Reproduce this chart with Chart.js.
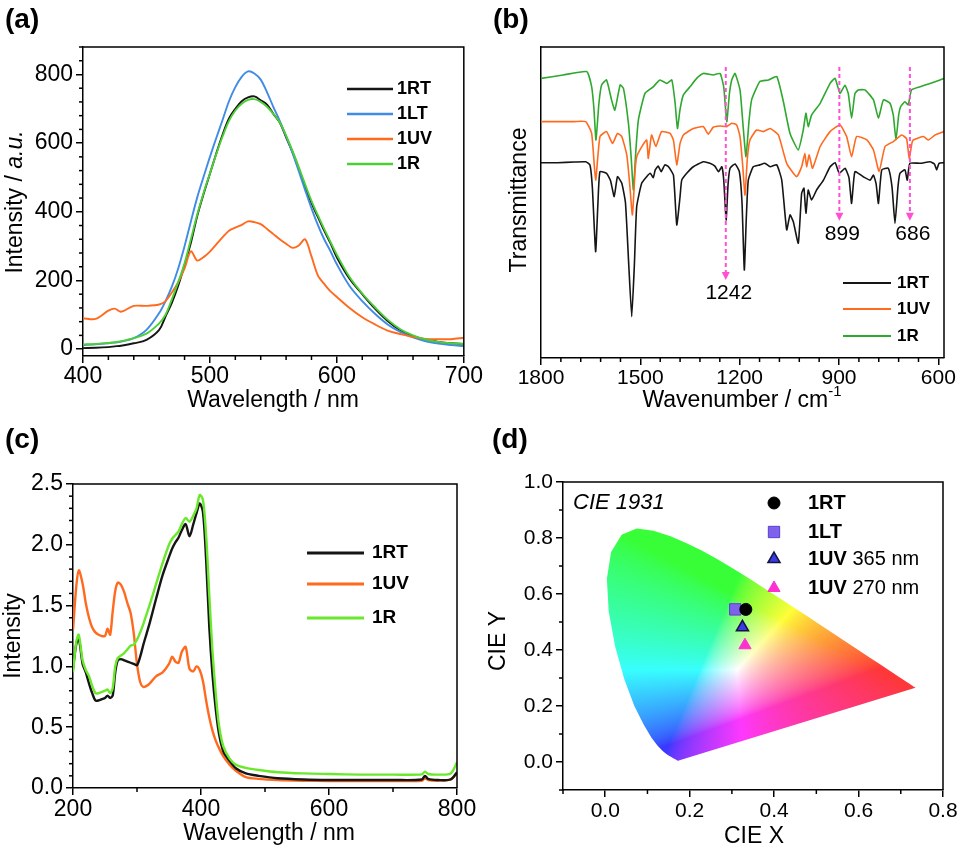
<!DOCTYPE html>
<html>
<head>
<meta charset="utf-8">
<script src="https://cdn.jsdelivr.net/npm/chart.js@4.4.0/dist/chart.umd.min.js"></script>
<style>
  html, body { margin: 0; padding: 0; background: #fff; }
  #wrap { position: relative; width: 966px; height: 856px; overflow: hidden; }
  canvas { position: absolute; }
</style>
</head>
<body>
<div id="wrap">
  <canvas id="ca" width="483" height="420" style="left:0;top:0"></canvas>
  <canvas id="cb" width="483" height="420" style="left:483px;top:0"></canvas>
  <canvas id="cc" width="483" height="436" style="left:0;top:420px"></canvas>
  <canvas id="cd" width="483" height="436" style="left:483px;top:420px"></canvas>
</div>
<script>
// ---- (a) photoluminescence ----
const aWl = [400,410,420,425,430,440,450,460,465,470,475,480,485,490,495,500,505,510,515,520,525,530,535,540,545,550,555,560,565,570,575,580,585,590,595,600,610,620,630,640,650,660,670,680,690,700];
const a1RT = [3,4,6,8,10,17,27,56,95,135,185,245,310,388,452,511,570,625,672,700,722,733,736,725,712,685,660,617,574,525,473,425,385,345,308,267,205,160,118,82,55,38,28,21,17,15];
const a1LT = [12,14,17,19,22,32,56,105,140,182,235,300,372,442,502,560,615,668,722,763,793,809,803,785,748,705,665,620,572,518,463,410,362,320,285,247,184,140,103,72,50,34,23,16,12,9];
const a1UV = [90,88,112,118,109,126,126,130,140,165,195,235,285,258,268,284,305,326,345,354,362,372,370,364,350,335,320,307,295,302,320,270,215,190,168,152,120,93,72,54,44,35,30,29,29,33];
const a1R  = [14,15,18,20,23,32,45,75,100,145,195,250,320,392,455,512,568,620,665,695,715,726,728,720,706,685,660,622,578,530,480,432,390,350,312,275,210,162,122,86,58,40,28,21,17,15];
const aXTicks = [400, 500, 600, 700];
const aYTicks = [0, 200, 400, 600, 800];

// ---- (b) IR spectra (arbitrary transmittance units) ----
const bRtWn = [1800,1750,1700,1665,1652,1645,1635,1628,1622,1602,1590,1579,1569,1556,1545,1535,1526,1518,1511,1496,1481,1470,1461,1455,1446,1437,1426,1415,1400,1390,1380,1375,1360,1340,1310,1290,1275,1264,1254,1248,1241,1235,1229,1214,1201,1193,1186,1180,1174,1159,1139,1124,1108,1088,1073,1058,1048,1038,1023,1013,1006,1000,993,983,968,947,927,912,899,882,870,862,852,827,806,796,788,781,771,751,740,731,722,716,701,694,686,655,625,612,605,598,583];
const bRtT = [62.8,62.8,63.0,63.1,62,55,34.2,50,59.9,59.4,57,51.9,58.3,56.2,50,30,13.3,30,48.7,56.2,58.3,59.4,58,60.5,61.7,59.9,62.1,61.5,58.8,42.8,52,57.2,59.4,61.5,63.1,62.6,61.7,59.9,61.5,57,44.4,56,61,62.4,59.9,50,28.3,45,57.2,61.5,62.1,62.6,61.5,62.1,57.2,41.2,46,43.8,36.9,52.9,54.6,46.5,54,50.8,54,57.2,61.5,62.8,59.4,61,58,49.7,59.9,58.3,57.2,58.8,56,49.7,60.5,61,55,43.3,55,59.4,60.5,57.2,62.6,62.6,63.1,62.4,60.5,62.6,62.8];
const bUvWn = [1800,1700,1665,1647,1635,1622,1602,1584,1569,1556,1541,1533,1524,1516,1511,1496,1481,1476,1466,1453,1436,1410,1400,1390,1380,1370,1340,1310,1295,1280,1259,1239,1224,1209,1199,1191,1184,1177,1169,1149,1129,1108,1083,1058,1028,1013,1003,998,990,980,957,927,897,877,862,847,816,796,779,761,736,711,696,688,680,676,645,630,610,583];
const bUvT = [76.0,76.0,76.0,72.2,57.2,71.2,72.8,69,72.2,71.2,65.3,57,46,60,64.7,67.9,70.1,64.2,71.7,68,72.8,72.2,70,62.1,69,71.7,73.8,74.4,72,74.2,74.6,74.4,75.5,74.9,71.2,62,52.4,64,70.1,73.3,72.8,73.8,71.7,62.6,58.3,61.5,65.8,61.5,65.3,61,68,72.8,74.9,71.2,64.7,71.2,70.1,66.9,60,68,69.6,71.7,70.5,64.2,69,70.1,71.2,70.1,71.7,72.8];
const bRWn = [1800,1733,1662,1647,1640,1634,1625,1617,1602,1587,1577,1561,1551,1536,1528,1521,1514,1506,1486,1461,1441,1420,1405,1395,1388,1380,1370,1350,1330,1310,1280,1259,1248,1239,1231,1224,1214,1199,1190,1181,1172,1164,1139,1113,1088,1068,1048,1023,1008,1000,993,983,957,927,912,897,882,872,862,852,842,822,796,781,766,746,736,728,720,714,701,691,681,655,625,595,583];
const bRT = [89.9,91.0,92.1,87.2,80,70.1,82,87.8,89.4,83,79.7,87.8,86.7,75.5,65,54,66,76.5,85.1,87.2,89.4,88.3,89.4,82,73.8,80,84.6,87.2,89.9,91.5,91.0,91.5,87,76.0,85,89.4,91.5,86.2,75,64.7,76,83,88.9,89.4,90.5,82.4,72.2,66.9,73.3,78.7,74.4,78.1,81.9,88.3,89.9,85.1,87.7,85,77.1,85,86.2,86.2,83.0,77.1,83.0,81.9,78,70.1,78,80.8,82.4,81.4,86.2,87.2,88.3,89.4,89.9];
const bMarkWn = [1242, 899, 686];
const bMarkTop = [93.6, 93.6, 93.6];
const bMarkTip = [25.1, 44.1, 44.1];
const bXTicks = [600, 900, 1200, 1500, 1800];

// ---- (c) absorption ----
const cWl = [200,205,209,215,220,225,230,235,240,245,250,254,258,262,266,270,275,280,285,290,295,300,305,310,315,320,330,340,350,355,360,365,370,376,382,388,393,398,403,408,413,418,423,428,435,445,455,470,490,520,560,600,650,700,745,750,755,770,790,800];
const c1RT = [0.98,1.18,1.23,1.02,0.95,0.86,0.78,0.72,0.72,0.73,0.74,0.76,0.74,0.76,0.95,1.05,1.06,1.05,1.04,1.03,1.02,1.01,1.08,1.18,1.27,1.36,1.56,1.75,1.90,1.97,2.02,2.06,2.12,2.17,2.07,2.17,2.26,2.34,2.27,1.88,1.32,0.93,0.65,0.45,0.30,0.22,0.16,0.12,0.10,0.08,0.07,0.066,0.066,0.066,0.07,0.10,0.075,0.066,0.07,0.13];
const c1UV = [1.30,1.65,1.79,1.68,1.52,1.40,1.32,1.28,1.26,1.25,1.25,1.31,1.26,1.45,1.62,1.69,1.67,1.61,1.52,1.44,1.27,1.02,0.87,0.83,0.84,0.86,0.92,0.95,1.02,1.08,1.04,1.03,1.12,1.16,0.98,0.96,1.00,0.97,0.88,0.72,0.58,0.47,0.39,0.33,0.26,0.19,0.14,0.09,0.075,0.065,0.06,0.058,0.057,0.057,0.06,0.08,0.065,0.06,0.07,0.12];
const c1R  = [0.95,1.20,1.26,1.05,0.97,0.92,0.84,0.78,0.78,0.79,0.80,0.81,0.78,0.82,1.00,1.07,1.09,1.11,1.14,1.17,1.18,1.22,1.28,1.35,1.43,1.51,1.68,1.85,2.00,2.05,2.08,2.11,2.17,2.22,2.19,2.24,2.30,2.41,2.37,2.08,1.58,1.12,0.78,0.52,0.34,0.24,0.19,0.165,0.148,0.13,0.12,0.115,0.11,0.11,0.112,0.135,0.115,0.11,0.12,0.21];
const cXTicks = [200, 400, 600, 800];
const cYTicks = [0, 0.5, 1.0, 1.5, 2.0, 2.5];

// ---- (d) CIE 1931 ----
const locusX = [0.1741,0.1740,0.1738,0.1736,0.1733,0.1730,0.1726,0.1721,0.1714,0.1703,0.1689,0.1669,0.1644,0.1611,0.1566,0.1510,0.1440,0.1355,0.1241,0.1096,0.0913,0.0687,0.0454,0.0235,0.0082,0.0039,0.0139,0.0389,0.0743,0.1142,0.1547,0.1929,0.2296,0.2658,0.3016,0.3373,0.3731,0.4087,0.4441,0.4788,0.5125,0.5448,0.5752,0.6029,0.6270,0.6482,0.6658,0.6801,0.6915,0.7006,0.7079,0.7140,0.7190,0.7230,0.7260,0.7283,0.7300,0.7311,0.7320,0.7334,0.7347];
const locusY = [0.0050,0.0050,0.0049,0.0049,0.0048,0.0048,0.0048,0.0048,0.0051,0.0058,0.0069,0.0086,0.0109,0.0138,0.0177,0.0227,0.0297,0.0399,0.0578,0.0868,0.1327,0.2007,0.2950,0.4127,0.5384,0.6548,0.7502,0.8120,0.8338,0.8262,0.8059,0.7816,0.7543,0.7243,0.6923,0.6589,0.6245,0.5896,0.5547,0.5202,0.4866,0.4544,0.4242,0.3965,0.3725,0.3514,0.3340,0.3197,0.3083,0.2993,0.2920,0.2859,0.2809,0.2770,0.2740,0.2717,0.2700,0.2689,0.2680,0.2666,0.2653];
const cieNames = ['1RT', '1LT', '1UV 365 nm', '1UV 270 nm'];
const cieX = [0.333, 0.308, 0.325, 0.331];
const cieY = [0.545, 0.545, 0.481, 0.417];
const dXTicks = [0, 0.2, 0.4, 0.6, 0.8];
const dYTicks = [0, 0.2, 0.4, 0.6, 0.8, 1.0];

const FONT = "'Liberation Sans', Arial, Helvetica, sans-serif";
Chart.defaults.font.family = FONT;
Chart.defaults.color = '#000';

function pts(xs, ys) { return xs.map((x, i) => ({ x: x, y: ys[i] })); }

function fontOf(s) {
  return (s.italic ? 'italic ' : '') + (s.bold ? 'bold ' : '') + s.size + 'px ' + FONT;
}

// draws a run of text pieces (bold / italic / superscript) centred or left aligned
function drawRich(ctx, segs, x, y, rot, align) {
  ctx.save();
  ctx.translate(x, y);
  if (rot) ctx.rotate(rot);
  let total = 0;
  segs.forEach(s => { ctx.font = fontOf(s); s.w = ctx.measureText(s.t).width; total += s.w; });
  let cx = align === 'left' ? 0 : -total / 2;
  ctx.textBaseline = 'middle';
  ctx.textAlign = 'left';
  ctx.fillStyle = '#000';
  segs.forEach(s => { ctx.font = fontOf(s); ctx.fillText(s.t, cx, s.sup ? -s.sup : 0); cx += s.w; });
  ctx.restore();
}

function drawMarker(ctx, ds, x, y) {
  ctx.save();
  ctx.fillStyle = ds.backgroundColor;
  ctx.strokeStyle = ds.borderColor;
  ctx.lineWidth = ds.borderWidth;
  Chart.helpers.drawPoint(ctx, { pointStyle: ds.pointStyle, radius: ds.pointRadius, borderWidth: ds.borderWidth, rotation: 0 }, x, y);
  ctx.restore();
}

const deco = {
  id: 'deco',
  afterDraw(chart, args, o) {
    const ctx = chart.ctx, a = chart.chartArea, sx = chart.scales.x, sy = chart.scales.y;
    ctx.save();
    ctx.strokeStyle = '#000';
    ctx.lineWidth = 1.5;
    ctx.beginPath();
    ctx.moveTo(a.left, a.top); ctx.lineTo(a.right, a.top); ctx.lineTo(a.right, a.bottom);
    ctx.stroke();

    // minor ticks
    const isMajor = (v, m) => Math.abs(v / m - Math.round(v / m)) < 1e-6;
    if (o.xMinor) {
      const lo = Math.min(sx.min, sx.max), hi = Math.max(sx.min, sx.max);
      for (let v = Math.ceil(lo / o.xMinor - 1e-9) * o.xMinor; v <= hi + 1e-9; v += o.xMinor) {
        if (isMajor(v, o.xMajor)) continue;
        const p = sx.getPixelForValue(v);
        ctx.beginPath(); ctx.moveTo(p, a.bottom); ctx.lineTo(p, a.bottom + 4); ctx.stroke();
      }
    }
    if (o.yMinor) {
      for (let v = Math.ceil(sy.min / o.yMinor - 1e-9) * o.yMinor; v <= sy.max + 1e-9; v += o.yMinor) {
        if (isMajor(v, o.yMajor)) continue;
        const p = sy.getPixelForValue(v);
        ctx.beginPath(); ctx.moveTo(a.left, p); ctx.lineTo(a.left - 4, p); ctx.stroke();
      }
    }

    // marker arrows (panel b)
    if (o.marks) {
      ctx.strokeStyle = '#ff4fd4';
      ctx.fillStyle = '#ff4fd4';
      ctx.lineWidth = 2;
      o.marks.wn.forEach((w, i) => {
        const px = sx.getPixelForValue(w);
        const top = sy.getPixelForValue(o.marks.top[i]);
        const tip = sy.getPixelForValue(o.marks.tip[i]);
        ctx.setLineDash([4, 3]);
        ctx.beginPath(); ctx.moveTo(px, top); ctx.lineTo(px, tip - 6); ctx.stroke();
        ctx.setLineDash([]);
        ctx.beginPath(); ctx.moveTo(px - 4, tip - 8); ctx.lineTo(px + 4, tip - 8); ctx.lineTo(px, tip); ctx.closePath(); ctx.fill();
        drawRich(ctx, [{ t: String(w), size: 21 }], px + 3, tip + 13);
      });
    }
    ctx.restore();

    // axis titles and panel letter
    if (o.xTitle) drawRich(ctx, o.xTitle, o.xTitlePos[0], o.xTitlePos[1]);
    if (o.yTitle) drawRich(ctx, o.yTitle, o.yTitlePos[0], o.yTitlePos[1], -Math.PI / 2);
    drawRich(ctx, [{ t: o.panel, size: 28, bold: true }], o.panelPos[0], o.panelPos[1], 0, 'left');
    if (o.note) drawRich(ctx, o.note.segs, o.note.x, o.note.y, 0, 'left');

    // legend
    const lg = o.legend;
    if (lg) {
      chart.data.datasets.forEach((ds, i) => {
        if (i >= lg.ys.length) return;
        const y = lg.ys[i];
        if (lg.marker) {
          drawMarker(ctx, ds, lg.mx, y);
          drawRich(ctx, lg.texts[i], lg.tx, y, 0, 'left');
        } else {
          ctx.save();
          ctx.strokeStyle = ds.borderColor;
          ctx.lineWidth = ds.borderWidth + 0.4;
          ctx.beginPath(); ctx.moveTo(lg.x0, y); ctx.lineTo(lg.x1, y); ctx.stroke();
          ctx.restore();
          drawRich(ctx, [{ t: ds.label, size: lg.size, bold: true }], lg.tx, y, 0, 'left');
        }
      });
    }
  }
};

function axis(c) {
  return {
    type: 'linear',
    min: c.min, max: c.max, reverse: !!c.reverse,
    afterFit: c.fit,
    afterBuildTicks: c.ticks ? (s => { s.ticks = c.ticks.map(v => ({ value: v })); }) : undefined,
    border: { display: true, color: '#000', width: 1.5 },
    grid: { display: true, drawOnChartArea: false, drawTicks: c.show !== false, tickLength: 7, color: '#000', lineWidth: 1.5, tickWidth: 1.5 },
    ticks: {
      display: c.show !== false, includeBounds: false, padding: c.pad,
      color: '#000', font: { family: FONT, size: c.size }, maxRotation: 0, autoSkip: false,
      callback: c.fmt
    }
  };
}

const intFmt = v => String(Math.round(v));
const decFmt = v => (Math.abs(v) < 1e-9 ? 0 : v).toFixed(1);

function lineSet(label, xs, ys, color, width, order, tension) {
  return { label: label, data: pts(xs, ys), borderColor: color, backgroundColor: color, borderWidth: width,
           pointRadius: 0, tension: tension, order: order, fill: false };
}

// ---------- (a) ----------
new Chart(document.getElementById('ca'), {
  type: 'line',
  data: { datasets: [
    lineSet('1RT', aWl, a1RT, '#151515', 1.9, 3, 0.35),
    lineSet('1LT', aWl, a1LT, '#3f8be6', 1.9, 2, 0.35),
    lineSet('1UV', aWl, a1UV, '#ff6a1f', 1.9, 1, 0.3),
    lineSet('1R', aWl, a1R, '#4ccf36', 1.9, 0, 0.35)
  ] },
  options: {
    responsive: false, animation: false, devicePixelRatio: 1,
    layout: { padding: { top: 47, right: 19, bottom: 0, left: 0 } },
    plugins: {
      legend: { display: false }, tooltip: { enabled: false },
      deco: {
        panel: '(a)', panelPos: [5, 20],
        xTitle: [{ t: 'Wavelength / nm', size: 23 }], xTitlePos: [273, 401],
        yTitle: [{ t: 'Intensity / ', size: 23 }, { t: 'a.u.', size: 23, italic: true }], yTitlePos: [16, 202],
        xMinor: 20, xMajor: 100, yMinor: 40, yMajor: 200,
        legend: { x0: 347, x1: 393, tx: 397, ys: [89, 114, 139, 164], size: 18 }
      }
    },
    scales: {
      x: axis({ min: 400, max: 700, ticks: aXTicks, size: 23, pad: 0, fmt: intFmt, fit: s => { s.height = 64; } }),
      y: axis({ min: -20, max: 880, ticks: aYTicks, size: 23, pad: 3, fmt: intFmt, fit: s => { s.width = 83; } })
    }
  },
  plugins: [deco]
});

// ---------- (b) ----------
new Chart(document.getElementById('cb'), {
  type: 'line',
  data: { datasets: [
    lineSet('1RT', bRtWn, bRtT, '#151515', 1.6, 0, 0.15),
    lineSet('1UV', bUvWn, bUvT, '#ff6a1f', 1.6, 1, 0.15),
    lineSet('1R', bRWn, bRT, '#2ea82e', 1.6, 2, 0.15)
  ] },
  options: {
    responsive: false, animation: false, devicePixelRatio: 1,
    layout: { padding: { top: 47, right: 22, bottom: 0, left: 0 } },
    plugins: {
      legend: { display: false }, tooltip: { enabled: false },
      deco: {
        panel: '(b)', panelPos: [10, 20],
        xTitle: [{ t: 'Wavenumber / cm', size: 23 }, { t: '-1', size: 15, sup: 9 }], xTitlePos: [259, 401],
        yTitle: [{ t: 'Transmittance', size: 23 }], yTitlePos: [37, 200],
        xMinor: 60, xMajor: 300,
        marks: { wn: bMarkWn, top: bMarkTop, tip: bMarkTip },
        legend: { x0: 360, x1: 408, tx: 414, ys: [283, 309, 336], size: 17 }
      }
    },
    scales: {
      x: axis({ min: 583, max: 1800, reverse: true, ticks: bXTicks, size: 21, pad: 1, fmt: intFmt, fit: s => { s.height = 62; } }),
      y: axis({ min: 0, max: 100, show: false, fit: s => { s.width = 58; } })
    }
  },
  plugins: [deco]
});

// ---------- (c) ----------
new Chart(document.getElementById('cc'), {
  type: 'line',
  data: { datasets: [
    lineSet('1RT', cWl, c1RT, '#151515', 2.4, 1, 0.3),
    lineSet('1UV', cWl, c1UV, '#ff6a1f', 2.4, 2, 0.3),
    lineSet('1R', cWl, c1R, '#6ae82c', 2.4, 0, 0.3)
  ] },
  options: {
    responsive: false, animation: false, devicePixelRatio: 1,
    layout: { padding: { top: 64, right: 26, bottom: 0, left: 0 } },
    plugins: {
      legend: { display: false }, tooltip: { enabled: false },
      deco: {
        panel: '(c)', panelPos: [5, 20],
        xTitle: [{ t: 'Wavelength / nm', size: 23 }], xTitlePos: [269, 414],
        yTitle: [{ t: 'Intensity', size: 23 }], yTitlePos: [14, 216],
        xMinor: 100, xMajor: 200, yMinor: 0.1, yMajor: 0.5,
        legend: { x0: 307, x1: 364, tx: 372, ys: [133, 164, 198], size: 19 }
      }
    },
    scales: {
      x: axis({ min: 200, max: 800, ticks: cXTicks, size: 23, pad: 1, fmt: intFmt, fit: s => { s.height = 68; } }),
      y: axis({ min: 0, max: 2.5, ticks: cYTicks, size: 23, pad: 3, fmt: decFmt, fit: s => { s.width = 73; } })
    }
  },
  plugins: [deco]
});

// ---------- (d) ----------
function xyToRgb(cx, cy) {
  cy = Math.max(cy, 0.002);
  const X = cx / cy, Y = 1, Z = (1 - cx - cy) / cy;
  let r = 3.2406 * X - 1.5372 * Y - 0.4986 * Z;
  let g = -0.9689 * X + 1.8758 * Y + 0.0415 * Z;
  let b = 0.0557 * X - 0.2040 * Y + 1.0570 * Z;
  r = Math.max(r, 0); g = Math.max(g, 0); b = Math.max(b, 0);
  const m = Math.max(r, g, b) || 1;
  // soften slightly towards white, like the reference rendering
  return [r / m, g / m, b / m].map(c => {
    c = 0.95 * c + 0.04;
    return 255 * (c <= 0.0031308 ? 12.92 * c : 1.055 * Math.pow(c, 1 / 2.4) - 0.055);
  });
}

let gamutCache = null;
const gamut = {
  id: 'gamut',
  beforeDatasetsDraw(chart) {
    const ctx = chart.ctx, a = chart.chartArea, sx = chart.scales.x, sy = chart.scales.y;
    const w = Math.round(a.right - a.left), h = Math.round(a.bottom - a.top);
    if (!gamutCache || gamutCache.width !== w || gamutCache.height !== h) {
      const off = document.createElement('canvas');
      off.width = w; off.height = h;
      const oc = off.getContext('2d');
      const img = oc.createImageData(w, h);
      for (let j = 0; j < h; j++) {
        const vy = sy.getValueForPixel(a.top + j + 0.5);
        for (let i = 0; i < w; i++) {
          const vx = sx.getValueForPixel(a.left + i + 0.5);
          const c = xyToRgb(vx, vy);
          const k = (j * w + i) * 4;
          img.data[k] = c[0]; img.data[k + 1] = c[1]; img.data[k + 2] = c[2]; img.data[k + 3] = 255;
        }
      }
      oc.putImageData(img, 0, 0);
      gamutCache = off;
    }
    ctx.save();
    ctx.beginPath();
    locusX.forEach((x, i) => {
      const px = sx.getPixelForValue(x), py = sy.getPixelForValue(locusY[i]);
      if (i === 0) ctx.moveTo(px, py); else ctx.lineTo(px, py);
    });
    ctx.closePath();
    ctx.clip();
    ctx.drawImage(gamutCache, a.left, a.top);
    ctx.restore();
  }
};

const cieStyle = [
  { pointStyle: 'circle', pointRadius: 6, backgroundColor: '#000000', borderColor: '#000000', borderWidth: 1 },
  { pointStyle: 'rect', pointRadius: 8, backgroundColor: '#7f62ec', borderColor: '#5a3cd4', borderWidth: 1 },
  { pointStyle: 'triangle', pointRadius: 7, backgroundColor: '#3a3ae6', borderColor: '#141440', borderWidth: 1.5 },
  { pointStyle: 'triangle', pointRadius: 7, backgroundColor: '#ff2fd0', borderColor: '#ff2fd0', borderWidth: 1 }
];

new Chart(document.getElementById('cd'), {
  type: 'scatter',
  data: { datasets: cieNames.map((n, i) => Object.assign({ label: n, data: [{ x: cieX[i], y: cieY[i] }] }, cieStyle[i])) },
  options: {
    responsive: false, animation: false, devicePixelRatio: 1,
    layout: { padding: { top: 62, right: 23, bottom: 0, left: 0 } },
    plugins: {
      legend: { display: false }, tooltip: { enabled: false },
      deco: {
        panel: '(d)', panelPos: [9, 20],
        xTitle: [{ t: 'CIE X', size: 23 }], xTitlePos: [271, 417],
        yTitle: [{ t: 'CIE Y', size: 23 }], yTitlePos: [16, 221],
        xMinor: 0.1, xMajor: 0.2, yMinor: 0.1, yMajor: 0.2,
        note: { segs: [{ t: 'CIE 1931', size: 22, italic: true }], x: 90, y: 83 },
        legend: {
          marker: true, mx: 291, tx: 325, ys: [83, 112, 139, 168],
          texts: [
            [{ t: '1RT', size: 20, bold: true }],
            [{ t: '1LT', size: 20, bold: true }],
            [{ t: '1UV', size: 20, bold: true }, { t: ' 365 nm', size: 20 }],
            [{ t: '1UV', size: 20, bold: true }, { t: ' 270 nm', size: 20 }]
          ]
        }
      }
    },
    scales: {
      x: axis({ min: -0.1, max: 0.8, ticks: dXTicks, size: 21, pad: 2, fmt: decFmt, fit: s => { s.height = 66; } }),
      y: axis({ min: -0.1, max: 1.0, ticks: dYTicks, size: 21, pad: 3, fmt: decFmt, fit: s => { s.width = 80; } })
    }
  },
  plugins: [gamut, deco]
});
</script>
</body>
</html>
